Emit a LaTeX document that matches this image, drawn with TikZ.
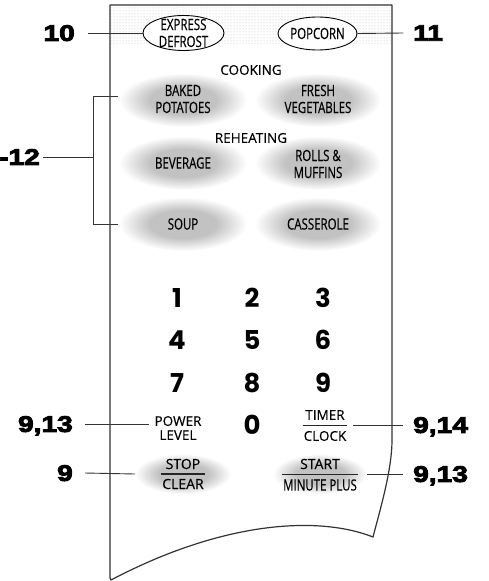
\documentclass[tikz,border=0pt]{standalone}
\usepackage{fontspec}
\usetikzlibrary{shapes.geometric,patterns,calc}
\newfontfamily\regf{Open Sans}[FakeBold=0.4]
\newfontfamily\condf{Open Sans}[FakeStretch=0.74,FakeBold=0.4]
\newfontfamily\digf{Poppins}
\newfontface\callf{Liberation Sans Bold}[FakeStretch=1.25,FakeBold=4]
\definecolor{edge}{HTML}{333333}
\definecolor{glowc}{HTML}{C2C2C2}
\pgfdeclareradialshading{glow}{\pgfpoint{0bp}{0bp}}{color(0bp)=(glowc); color(13bp)=(glowc); color(25bp)=(white); color(50bp)=(white)}
\tikzset{
 lead/.style={draw=edge, line width=0.9pt},
 btn/.style={font=\condf\fontsize{15.5}{17}\selectfont, align=center, inner sep=0pt, text=black},
 head/.style={font=\regf\fontsize{13.5}{15}\selectfont, inner sep=0pt, text=black},
 keyl/.style={font=\regf\fontsize{14}{16}\selectfont, inner sep=0pt, text=black},
 dig/.style={font=\digf\bfseries\fontsize{26}{26}\selectfont, inner sep=0pt},
 call/.style={font=\callf\fontsize{22.5}{22.5}\selectfont, inner sep=0pt, text depth=0pt},
 glowbg/.style={shading=glow},
 oval/.style={ellipse, draw=black, fill=white, line width=0.9pt, minimum width=81pt, minimum height=35pt, inner sep=0pt},
 bar/.style={draw=black!85, line width=1.3pt},
 panel/.style={draw=edge, line width=1.2pt, line join=round},
}
\begin{document}
\begin{tikzpicture}[x=1pt,y=-1pt]
\useasboundingbox (0,0) rectangle (489,581);
% top dotted band
\fill[pattern=dots, pattern color=gray!55] (110,5) rectangle (392,43);
% glows
\shade[glowbg] (183,100) ellipse [x radius=64pt, y radius=27pt];
\shade[glowbg] (318,100) ellipse [x radius=63pt, y radius=27pt];
\shade[glowbg] (183,163) ellipse [x radius=64pt, y radius=27pt];
\shade[glowbg] (318,163) ellipse [x radius=63pt, y radius=27pt];
\shade[glowbg] (183,224) ellipse [x radius=64pt, y radius=27pt];
\shade[glowbg] (318,224) ellipse [x radius=63pt, y radius=27pt];
\shade[glowbg] (183,474) ellipse [x radius=48pt, y radius=20pt];
\shade[glowbg] (320,474) ellipse [x radius=47pt, y radius=20pt];
\coordinate (gstop) at (183,474);
\coordinate (gstart) at (320,474);
% panel outline
\draw[panel] (110,5) -- (392,5) -- (392,440)
  .. controls (392,470) and (380,510) .. (373,537)
  .. controls (320,516) and (225,520) .. (111,580)
  -- (110,578) -- cycle;
% top keys
\node[oval] (ed) at (183.5,33) {};
\node[btn] at (ed) {EXPRESS\\DEFROST};
\node[oval, minimum width=79pt, minimum height=33pt] (pc) at (317.5,33.5) {};
\node[btn] at (pc) {POPCORN};
% headings
\node[head] (cook) at (251,70) {COOKING};
\node[head] (reh) at (251,138) {REHEATING};
% food keys
\node[btn] (bp) at (183,99) {BAKED\\POTATOES};
\node[btn] (fv) at (318,99) {FRESH\\VEGETABLES};
\node[btn] (bev) at (183,163) {BEVERAGE};
\node[btn] (rm) at (318,164) {ROLLS \&\\MUFFINS};
\node[btn] (soup) at (183,224) {SOUP};
\node[btn] (cas) at (318,224) {CASSEROLE};
% digits
\node[dig] (d1) at (177,298) {1};
\node[dig] (d2) at (252,298) {2};
\node[dig] (d3) at (323,298) {3};
\node[dig] (d4) at (177,340) {4};
\node[dig] (d5) at (252,340) {5};
\node[dig] (d6) at (323,340) {6};
\node[dig] (d7) at (177,383) {7};
\node[dig] (d8) at (252,383) {8};
\node[dig] (d9) at (323,383) {9};
\node[dig] (d0) at (252,425) {0};
% power level
\node[head, align=center, font=\regf\fontsize{13.5}{14}\selectfont] (pl) at (178,428) {POWER\\LEVEL};
% timer clock
\node[head] (tc1) at (325,415) {TIMER};
\node[head] (tc2) at (325,436) {CLOCK};
\coordinate (tcm) at ($(tc1.south)!0.5!(tc2.north)$);
\draw[bar] ([xshift=-1pt]tc2.west |- tcm) -- ([xshift=1pt]tc2.east |- tcm);
% stop clear
\node[keyl] (st1) at (183,464) {STOP};
\node[keyl] (st2) at (183,484) {CLEAR};
\coordinate (stm) at ($(st1.south)!0.5!(st2.north)$);
\draw[bar] ([xshift=-1pt]st2.west |- stm) -- ([xshift=1pt]st2.east |- stm);
% start minute plus
\node[keyl] (sm1) at (320,464) {START};
\node[btn] (sm2) at (320,485) {MINUTE PLUS};
\coordinate (smm) at ($(sm1.south)!0.5!(sm2.north)$);
\draw[bar] ([xshift=-1pt]sm2.west |- smm) -- ([xshift=1pt]sm2.east |- smm);
% callout labels
\node[call, anchor=east] (c10) at (75,33) {10};
\node[call, anchor=west] (c11) at (413,33) {11};
\node[call, anchor=east] (c12) at (40,157) {-12};
\node[call, anchor=east] (c913a) at (73,424) {9,13};
\node[call, anchor=west] (c914) at (413,425) {9,14};
\node[call, anchor=east] (c9) at (73,473) {9};
\node[call, anchor=west] (c913b) at (413,474) {9,13};
% leader lines
\draw[lead] ([xshift=13pt]c10.east) -- (ed.west);
\draw[lead] (pc.east) -- ([xshift=-10pt]c11.west);
\coordinate (bt) at (118,96);
\coordinate (bb) at (118,224);
\coordinate (bm) at (93,157);
\draw[lead] (bt) -- (bm |- bt) -- (bm |- bb) -- (bb);
\draw[lead] ([xshift=3pt]c12.east) -- (bm);
\draw[lead] ([xshift=12pt]c913a.east) -- ([xshift=-5pt]pl.west |- c913a.east);
\draw[lead] ([xshift=7pt]tc2.east |- c914.west) -- ([xshift=-10pt]c914.west);
\draw[lead] ([xshift=12pt]c9.east) -- ([xshift=-48pt]gstop);
\draw[lead] ([xshift=47pt]gstart) -- ([xshift=-10pt]c913b.west);
\end{tikzpicture}
\end{document}
